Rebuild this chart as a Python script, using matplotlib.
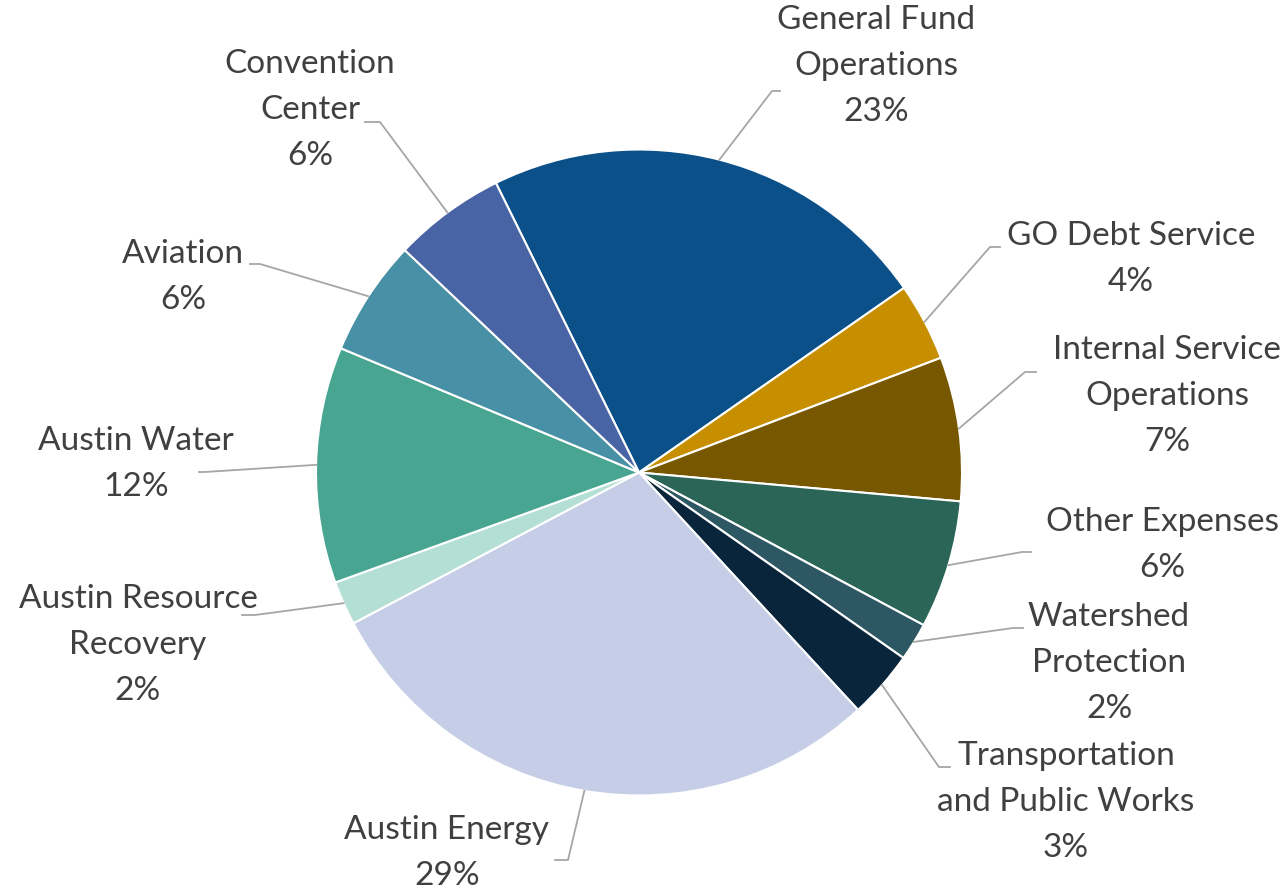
import numpy as np
import matplotlib.pyplot as plt

# slices in clockwise order, starting from General Fund Operations
categories = ['General Fund\nOperations', 'GO Debt Service', 'Internal Service\nOperations',
              'Other Expenses', 'Watershed\nProtection', 'Transportation\nand Public Works',
              'Austin Energy', 'Austin Resource\nRecovery', 'Austin Water', 'Aviation',
              'Convention\nCenter']
shares = [22.6, 3.9, 7.2, 6.4, 1.9, 3.4, 29.1, 2.2, 11.8, 5.8, 5.6]

colors = ['#0B5088', '#C78F00', '#775700', '#2B6557', '#2D5863', '#08253C',
          '#C5CEE6', '#B4DFD4', '#47A591', '#4790A5', '#4964A4']

# label layout in pixels: text centre x, text centre y, elbow x, elbow y, line end x
layout = [
    (876, 66, 772, 91, 780),
    (1131, 259, 990, 247, 1000),
    (1167, 396, 1025, 372, 1036),
    (1162, 545, 1022, 552, 1031),
    (1109, 663, 1013, 628, 1023),
    (1066, 802, 939, 767, 950),
    (447, 853, 568, 860, 555),
    (138, 645, 255, 615, 242),
    (136, 464, 205, 472, 199),
    (183, 277, 260, 264, 250),
    (310, 110, 380, 122, 365),
]

W, H = 1288, 892
CX, CY, R = 639, 472.5, 323


def px(x, y):
    return (x - CX) / R, (CY - y) / R


fig = plt.figure(figsize=(W / 100, H / 100), dpi=100)
ax = fig.add_axes([0, 0, 1, 1])

wedges, _ = ax.pie(shares, colors=colors, startangle=116.3, counterclock=False,
                   radius=1, center=(0, 0),
                   wedgeprops=dict(edgecolor='white', linewidth=1.5))

total = sum(shares)
for w, name, val, (tx, ty, ex, ey, lx) in zip(wedges, categories, shares, layout):
    mid = np.radians((w.theta1 + w.theta2) / 2)
    sx, sy = np.cos(mid), np.sin(mid)
    x1, y1 = px(ex, ey)
    x2, _ = px(lx, ey)
    ax.plot([sx, x1, x2], [sy, y1, y1], color='#A6A6A6', lw=1.3, zorder=1)
    label = '%s\n%d%%' % (name, round(val / total * 100))
    ax.text(*px(tx, ty), label, ha='center', va='center', multialignment='center',
            fontsize=24, family='Lato', color='#404040', linespacing=1.67)

ax.set_xlim(px(0, 0)[0], px(W, 0)[0])
ax.set_ylim(px(0, H)[1], px(0, 0)[1])
ax.axis('off')

fig.savefig('out.png', dpi=100)
